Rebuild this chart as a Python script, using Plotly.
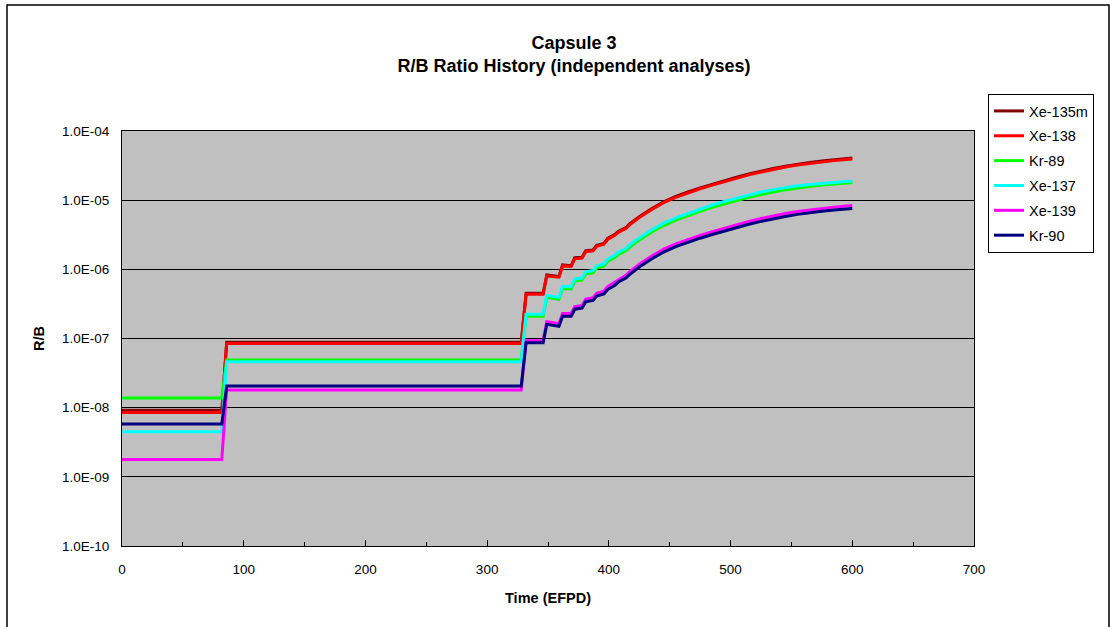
import plotly.graph_objects as go

# Time in effective full power days
days = [0, 82, 86, 328, 332, 346, 349, 359, 362, 369, 372, 378, 381, 387, 390, 396,
        399, 405, 408, 414, 417, 425, 435, 445, 455, 465, 475, 485, 495, 505, 515,
        525, 535, 545, 555, 565, 575, 585, 595, 600]

xe135m = [9.2e-9, 9.2e-9, 8.8e-8, 8.8e-8, 4.5e-7, 4.5e-7, 8.3e-7, 7.9e-7, 1.16e-6, 1.13e-6,
          1.47e-6, 1.5e-6, 1.86e-6, 1.9e-6, 2.22e-6, 2.37e-6, 2.8e-6, 3.2e-6, 3.55e-6, 4.0e-6,
          4.55e-6, 5.77e-6, 7.52e-6, 9.48e-6, 1.13e-5, 1.32e-5, 1.5e-5, 1.7e-5, 1.92e-5, 2.14e-5,
          2.39e-5, 2.63e-5, 2.87e-5, 3.1e-5, 3.32e-5, 3.51e-5, 3.69e-5, 3.84e-5, 3.99e-5, 4.06e-5]

xe138 = [8.5e-9, 8.5e-9, 8.5e-8, 8.5e-8, 4.35e-7, 4.35e-7, 8.0e-7, 7.7e-7, 1.12e-6, 1.1e-6,
         1.42e-6, 1.45e-6, 1.8e-6, 1.85e-6, 2.15e-6, 2.3e-6, 2.7e-6, 3.1e-6, 3.45e-6, 3.9e-6,
         4.4e-6, 5.6e-6, 7.3e-6, 9.2e-6, 1.1e-5, 1.28e-5, 1.46e-5, 1.65e-5, 1.86e-5, 2.08e-5,
         2.32e-5, 2.55e-5, 2.79e-5, 3.01e-5, 3.22e-5, 3.41e-5, 3.58e-5, 3.73e-5, 3.87e-5, 3.94e-5]

kr89 = [1.38e-8, 1.38e-8, 4.9e-8, 4.9e-8, 2.1e-7, 2.1e-7, 3.95e-7, 3.7e-7, 5.3e-7, 5.2e-7,
        6.8e-7, 7.0e-7, 8.6e-7, 8.9e-7, 1.04e-6, 1.11e-6, 1.3e-6, 1.48e-6, 1.65e-6, 1.85e-6,
        2.08e-6, 2.65e-6, 3.45e-6, 4.3e-6, 5.15e-6, 6.0e-6, 6.9e-6, 7.9e-6, 8.9e-6, 9.9e-6,
        1.1e-5, 1.21e-5, 1.31e-5, 1.41e-5, 1.5e-5, 1.58e-5, 1.65e-5, 1.71e-5, 1.77e-5, 1.8e-5]

xe137 = [4.5e-9, 4.5e-9, 4.6e-8, 4.6e-8, 2.25e-7, 2.25e-7, 4.2e-7, 3.95e-7, 5.7e-7, 5.6e-7,
         7.3e-7, 7.5e-7, 9.2e-7, 9.6e-7, 1.12e-6, 1.2e-6, 1.4e-6, 1.6e-6, 1.78e-6, 2.0e-6,
         2.25e-6, 2.85e-6, 3.7e-6, 4.65e-6, 5.55e-6, 6.45e-6, 7.45e-6, 8.5e-6, 9.6e-6, 1.07e-5,
         1.19e-5, 1.31e-5, 1.42e-5, 1.52e-5, 1.61e-5, 1.69e-5, 1.76e-5, 1.82e-5, 1.88e-5, 1.9e-5]

xe139 = [1.78e-9, 1.78e-9, 1.8e-8, 1.8e-8, 9.3e-8, 9.3e-8, 1.75e-7, 1.65e-7, 2.3e-7, 2.3e-7,
         2.9e-7, 3.0e-7, 3.7e-7, 3.9e-7, 4.5e-7, 4.85e-7, 5.6e-7, 6.5e-7, 7.2e-7, 8.2e-7,
         9.2e-7, 1.19e-6, 1.55e-6, 1.96e-6, 2.34e-6, 2.72e-6, 3.1e-6, 3.5e-6, 3.95e-6, 4.42e-6,
         4.93e-6, 5.42e-6, 5.93e-6, 6.4e-6, 6.85e-6, 7.25e-6, 7.6e-6, 7.93e-6, 8.22e-6, 8.38e-6]

kr90 = [5.8e-9, 5.8e-9, 2.05e-8, 2.05e-8, 8.7e-8, 8.7e-8, 1.6e-7, 1.5e-7, 2.1e-7, 2.1e-7,
        2.65e-7, 2.75e-7, 3.4e-7, 3.55e-7, 4.1e-7, 4.4e-7, 5.1e-7, 5.9e-7, 6.6e-7, 7.5e-7,
        8.4e-7, 1.08e-6, 1.41e-6, 1.78e-6, 2.13e-6, 2.48e-6, 2.82e-6, 3.19e-6, 3.6e-6, 4.02e-6,
        4.49e-6, 4.93e-6, 5.4e-6, 5.82e-6, 6.23e-6, 6.6e-6, 6.92e-6, 7.2e-6, 7.45e-6, 7.6e-6]

series_names = ["Xe-135m", "Xe-138", "Kr-89", "Xe-137", "Xe-139", "Kr-90"]
series_values = [xe135m, xe138, kr89, xe137, xe139, kr90]
series_colors = ["#800000", "#FF0000", "#00FF00", "#00FFFF", "#FF00FF", "#000080"]

y_tick_vals = [1e-10, 1e-9, 1e-8, 1e-7, 1e-6, 1e-5, 1e-4]
y_tick_text = ["1.0E-10", "1.0E-09", "1.0E-08", "1.0E-07", "1.0E-06", "1.0E-05", "1.0E-04"]
x_tick_vals = [0, 100, 200, 300, 400, 500, 600, 700]

FONT = "Liberation Sans, Arial, sans-serif"

fig = go.Figure()
for name, vals, col in zip(series_names, series_values, series_colors):
    fig.add_trace(go.Scatter(
        x=days, y=vals, name=name, mode="lines",
        line=dict(color=col, width=3), legendgroup=name,
    ))

# plot area geometry in pixels
L, R, T, B = 122, 974, 131, 546
W, H = 1114, 627
pw, ph = R - L, B - T


def px_x(p):
    return (p - L) / pw


def px_y(p):
    return (B - p) / ph


fig.update_layout(
    width=W, height=H,
    margin=dict(l=L, r=W - R, t=T, b=H - B),
    paper_bgcolor="white",
    plot_bgcolor="#C0C0C0",
    font=dict(family=FONT, size=13.5, color="black"),
    title=dict(
        text="<b>Capsule 3</b><br><b>R/B Ratio History (independent analyses)</b>",
        x=574 / W, xref="container", xanchor="center",
        y=1 - 49 / H, yanchor="top",
        font=dict(family=FONT, size=18, color="black"),
    ),
    showlegend=True,
    legend=dict(
        x=px_x(988), y=px_y(94), xanchor="left", yanchor="top",
        bordercolor="black", borderwidth=1, bgcolor="white",
        font=dict(family=FONT, size=14.5, color="black"),
        tracegroupgap=3,
        traceorder="grouped",
    ),
    xaxis=dict(
        range=[0, 700], tickvals=x_tick_vals, ticks="inside", ticklen=6,
        tickcolor="black", tickfont=dict(family=FONT, size=13.5),
        ticklabelstandoff=11,
        minor=dict(dtick=50, ticks="inside", ticklen=4, tickcolor="black", showgrid=False),
        showgrid=False, zeroline=False, showline=True, linecolor="black", linewidth=1,
        mirror=True,
        title=dict(text="<b>Time (EFPD)</b>", font=dict(family=FONT, size=14.5), standoff=16),
    ),
    yaxis=dict(
        type="log", range=[-10, -4], tickvals=y_tick_vals, ticktext=y_tick_text,
        ticks="outside", ticklen=0, tickfont=dict(family=FONT, size=13.5),
        ticklabelstandoff=9,
        showgrid=True, gridcolor="black", gridwidth=1,
        zeroline=False, showline=True, linecolor="black", linewidth=1, mirror=True,
        title=dict(text="<b>R/B</b>", font=dict(family=FONT, size=14.5), standoff=13),
    ),
)

# outer chart frame
fig.add_shape(type="rect", xref="paper", yref="paper",
              x0=px_x(7), x1=px_x(1109), y0=px_y(640), y1=px_y(5),
              line=dict(color="black", width=1.5), fillcolor="rgba(0,0,0,0)", layer="below")

fig.write_html("out.html")
